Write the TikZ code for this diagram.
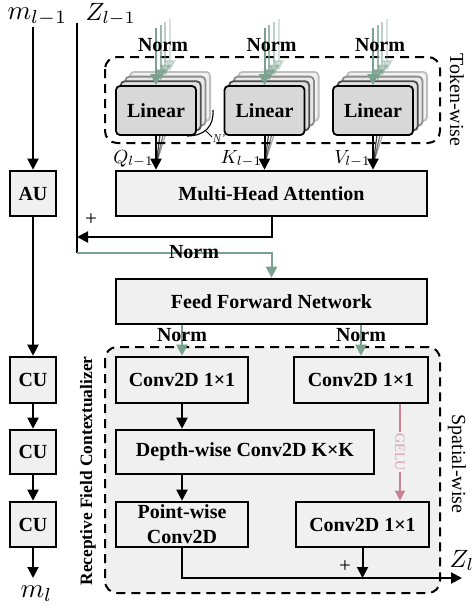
\documentclass[tikz,border=0pt]{standalone}
\usepackage{fontspec}
\setmainfont{Liberation Serif}
\usetikzlibrary{arrows.meta}

\definecolor{normgreen}{RGB}{122,160,142}
\definecolor{boxfill}{RGB}{240,240,240}
\definecolor{linfill}{RGB}{216,216,216}
\definecolor{gelupink}{RGB}{200,130,148}
\definecolor{gelutext}{RGB}{216,160,174}

\tikzset{
  blk/.style={draw=black, line width=2.6pt, fill=boxfill, inner sep=0pt, align=center,
    font=\fontsize{20}{25}\selectfont\bfseries},
  lin/.style={draw=black, line width=1.8pt, fill=linfill, rounded corners=4pt,
    minimum width=80pt, minimum height=49pt, inner sep=0pt,
    font=\fontsize{20}{23}\selectfont\bfseries},
  arr/.style={line width=2pt, -{Triangle[length=11pt,width=11pt]}},
  wire/.style={line width=2pt},
  garr/.style={draw=normgreen, line width=2pt, -{Triangle[length=11pt,width=11pt]}},
  parr/.style={draw=gelupink, line width=1.6pt, -{Triangle[length=10pt,width=10pt]}},
  normlbl/.style={font=\fontsize{20}{23}\selectfont\bfseries, inner sep=0pt},
  region/.style={dash pattern=on 9pt off 6pt, line width=2pt, rounded corners=12pt},
  sidelbl/.style={font=\fontsize{20}{23}\selectfont, inner sep=0pt},
  % math labels are set at 10pt and scaled up as a whole
  bigmath/.style={font=\fontsize{10}{12}\selectfont, inner sep=0pt, scale=2.5, transform shape},
  qkv/.style={font=\fontsize{10}{12}\selectfont, inner sep=0pt, scale=1.9, transform shape, anchor=base east},
  plus/.style={font=\fontsize{21}{22}\selectfont, inner sep=0pt},
}

\begin{document}
\begin{tikzpicture}[x=1pt,y=-1pt]
\useasboundingbox (0,0) rectangle (474,611);

% dashed groups
\draw[region, fill=boxfill] (105,347) rectangle (440,593);
\draw[region] (105,57) rectangle (440,143);
\node[sidelbl, rotate=-90] (tokenlbl) at (457,100) {Token-wise};
\node[sidelbl, rotate=-90] (spatiallbl) at (457,464) {Spatial-wise};
\node[rotate=90, inner sep=0pt, font=\fontsize{17.4}{20}\selectfont\bfseries] (rfclbl) at (88,471) {Receptive Field Contextualizer};

% inputs
\coordinate (minpos) at (7,19);
\coordinate (zinpos) at (85,20);
\node[bigmath, scale=1.08, anchor=base west] (min) at (minpos) {$m_{l-1}$};
\node[bigmath, anchor=base west] (zin) at (zinpos) {$Z_{l-1}$};
\coordinate (mtop) at (33,27);
\coordinate (ztop) at (77,23);
\coordinate (zturn) at (77,253);
\coordinate (zres) at (77,237);

% main blocks
\node[blk, minimum width=311pt, minimum height=45pt] (mha) at (271.5,193.5) {Multi-Head Attention};
\node[blk, minimum width=311pt, minimum height=45pt] (ffn) at (271.5,301.5) {Feed Forward Network};

% left chain
\node[blk, minimum width=46pt, minimum height=45pt] (au) at (33,193.5) {AU};
\node[blk, minimum width=46pt, minimum height=46pt] (cu1) at (33,380) {CU};
\node[blk, minimum width=46pt, minimum height=44pt] (cu2) at (33,452) {CU};
\node[blk, minimum width=46pt, minimum height=45pt] (cu3) at (33,524.5) {CU};
\coordinate (moutpos) at (20,597);
\node[bigmath, scale=1.08, anchor=base west] (mout) at (moutpos) {$m_{l}$};
\coordinate (mbot) at (33,578);
\draw[arr] (mtop) -- (au.north);
\draw[arr] (au.south) -- (cu1.north);
\draw[arr] (cu1.south) -- (cu2.north);
\draw[arr] (cu2.south) -- (cu3.north);
\draw[arr] (cu3.south) -- (mbot);

% token-wise linear projections (stacked heads)
\foreach \cx/\nm in {156/q,264.5/k,373/v}{
  % fan of head outputs converging on the query/key/value arrow
  \foreach \k/\op in {3/0.35,2/0.55,1/0.75}{
    \coordinate (fan\nm\k) at (\cx+4.7*\k,110.5-4.7*\k);
    \draw[line width=1.2pt, black, opacity=\op] ([yshift=-24pt]fan\nm\k) -- (\cx,165);
  }
  \foreach \k/\op/\dc/\fc in {3/0.3/25/35,2/0.5/45/60,1/0.75/70/80}{
    \node[lin, draw=black!\dc, fill=linfill!\fc!white] (lin\nm\k) at (\cx+4.7*\k,110.5-4.7*\k) {};
    \draw[garr, opacity=\op] (lin\nm\k.north) ++(0,-57+1.7*\k) -- (lin\nm\k.north);
  }
  \node[lin] (lin\nm) at (\cx,110.5) {Linear};
  \draw[garr] (lin\nm.north) ++(0,-57) -- (lin\nm.north);
  \node[normlbl] (norm\nm) at (\cx+7,45) {Norm};
  \draw[arr] (lin\nm.south) -- (lin\nm.south |- mha.north);
}
\coordinate (qpos) at (154,163);
\coordinate (kpos) at (262.5,163);
\coordinate (vpos) at (371,163);
\node[qkv] (qlbl) at (qpos) {$Q_{l-1}$};
\node[qkv] (klbl) at (kpos) {$K_{l-1}$};
\node[qkv] (vlbl) at (vpos) {$V_{l-1}$};

% head count marker
\draw[line width=1.1pt] (187,136) .. controls (205,136) and (214,126) .. (213,110);
\draw[line width=0.8pt] (206,131) -- (212,137);
\node[inner sep=0pt, font=\fontsize{12}{12}\selectfont\itshape, text=black!80] (nhead) at (219,139) {N'};

% residual around attention
\draw[wire] (ztop) -- (zturn);
\draw[arr] (mha.south) |- (zres);
\node[plus] (plus1) at (91,220) {+};
\draw[garr] (zturn) -| (ffn.north);
\node[normlbl] (norm2) at (194,252) {Norm};

% spatial-wise contextualizer
\node[blk, minimum width=132pt, minimum height=46pt] (cl) at (182,380) {Conv2D 1×1};
\node[blk, minimum width=134pt, minimum height=46pt] (cr) at (361,380) {Conv2D 1×1};
\node[blk, minimum width=258pt, minimum height=44pt] (dw) at (245,452) {Depth-wise Conv2D K×K};
\node[blk, minimum width=132pt, minimum height=45pt] (pw) at (182,524.5) {Point-wise\\Conv2D};
\node[blk, minimum width=133pt, minimum height=45pt] (cbr) at (362.5,524.5) {Conv2D 1×1};

\draw[garr] (ffn.south -| cl.north) -- (cl.north);
\draw[garr] (ffn.south -| cr.north) -- (cr.north);
\node[normlbl] (norml) at (182,335) {Norm};
\node[normlbl] (normr) at (361,335) {Norm};

\draw[arr] (cl.south) -- (cl.south |- dw.north);
\draw[arr] (dw.south -| pw.north) -- (pw.north);

\coordinate (gelux) at (400,0);
\draw[parr] (cr.south -| gelux) -- (cbr.north -| gelux);
\node[rotate=-90, fill=boxfill, inner sep=1pt, text=gelutext, font=\fontsize{14}{14}\selectfont] (gelu) at (400,452) {GELU};

\coordinate (zout) at (462,578);
\draw[arr] (pw.south) |- (zout);
\draw[arr] (cbr.south) -- (cbr.south |- zout);
\node[plus] (plus2) at (345,567) {+};
\coordinate (zoutpos) at (449,567);
\node[bigmath, anchor=base west] (zoutlbl) at (zoutpos) {$Z_{l}$};
\end{tikzpicture}
\end{document}
